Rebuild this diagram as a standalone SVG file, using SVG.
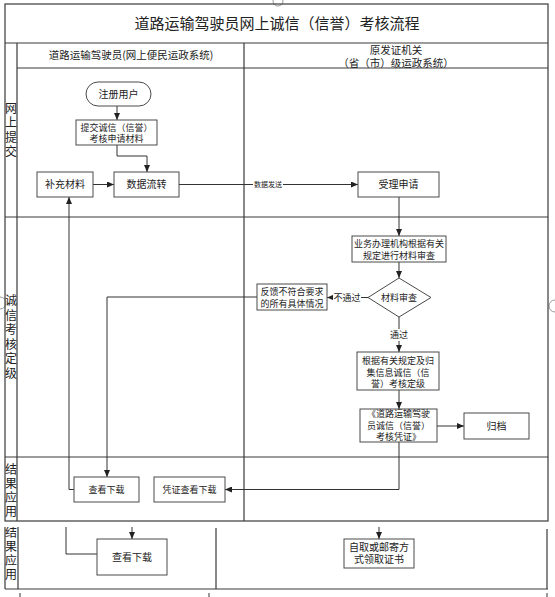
<svg xmlns="http://www.w3.org/2000/svg" width="555" height="597" viewBox="0 0 555 597">
<style>
text{font-family:"Noto Sans CJK SC","Noto Sans",sans-serif;fill:#222;text-anchor:middle}
.t{font-size:10px}
.s{font-size:9px}
.xs{font-size:7px}
.lane{font-size:12px;writing-mode:vertical-rl;letter-spacing:2.5px}
.tbl{fill:none;stroke:#3a3a3a;stroke-width:1.2}
.box{fill:#fff;stroke:#4a4a4a;stroke-width:1}
.c{fill:none;stroke:#333;stroke-width:1}
.h{fill:#fff;stroke:#999;stroke-width:1}
</style>
<defs>
<marker id="a" markerWidth="7" markerHeight="6" refX="7" refY="3" orient="auto" markerUnits="userSpaceOnUse">
<path d="M0,0 L7,3 L0,6 Z" fill="#222"/>
</marker>
<clipPath id="frag"><rect x="0" y="527" width="555" height="70"/></clipPath>
</defs>
<rect width="555" height="597" fill="#fff"/>

<g id="handles">
<circle class="h" cx="278" cy="1" r="5"/>
<circle class="h" cx="0" cy="303" r="6"/>
<circle class="h" cx="555" cy="306" r="6"/>
</g>

<g id="table">
<rect class="tbl" x="5" y="4" width="543" height="517"/>
<line class="tbl" x1="5" y1="43" x2="548" y2="43"/>
<line class="tbl" x1="17" y1="68" x2="548" y2="68"/>
<line class="tbl" x1="17" y1="43" x2="17" y2="521"/>
<line class="tbl" x1="244" y1="43" x2="244" y2="521"/>
<line class="tbl" x1="5" y1="217" x2="548" y2="217"/>
<line class="tbl" x1="5" y1="457" x2="548" y2="457"/>
<text x="277" y="29" style="font-size:15px">道路运输驾驶员网上诚信（信誉）考核流程</text>
<text x="131" y="59" style="font-size:10.5px">道路运输驾驶员(网上便民运政系统)</text>
<text x="396" y="54" style="font-size:10.5px"><tspan x="396">原发证机关</tspan><tspan x="396" dy="13">（省（市）级运政系统）</tspan></text>
<text x="11" y="131" class="lane">网上提交</text>
<text x="11" y="338" class="lane">诚信考核定级</text>
<text x="11" y="491" class="lane" style="letter-spacing:2px">结果应用</text>
</g>

<g id="fragment" clip-path="url(#frag)">
<line class="tbl" x1="5" y1="520" x2="5" y2="589"/>
<line class="tbl" x1="18" y1="520" x2="18" y2="589"/>
<line class="tbl" x1="216" y1="528" x2="216" y2="589"/>
<line class="tbl" x1="547" y1="529" x2="547" y2="589"/>
<line class="tbl" x1="5" y1="589" x2="548" y2="589"/>
<text x="11" y="554" class="lane" style="letter-spacing:2px">结果应用</text>
</g>
<g id="ticks" stroke="#333" stroke-width="1">
<line x1="20" y1="593" x2="20" y2="597"/>
<line x1="209" y1="593" x2="209" y2="597"/>
<line x1="547" y1="593" x2="547" y2="597"/>
</g>

<g id="connectors">
<path class="c" d="M117,106 V120" marker-end="url(#a)"/>
<path class="c" d="M117,145 V156 H147 V172" marker-end="url(#a)"/>
<path class="c" d="M93,184.5 H114" marker-end="url(#a)"/>
<path class="c" d="M179,184.5 H358" marker-end="url(#a)"/>
<rect x="253" y="180" width="30" height="9" fill="#fff"/>
<text x="268" y="187" class="xs">数据发送</text>
<path class="c" d="M399,197 V236" marker-end="url(#a)"/>
<path class="c" d="M399,262 V278" marker-end="url(#a)"/>
<path class="c" d="M368,297.5 H327" marker-end="url(#a)"/>
<rect x="333" y="291" width="28" height="13" fill="#fff"/>
<text x="347" y="301" class="s">不通过</text>
<path class="c" d="M257,297 H107 V477" marker-end="url(#a)"/>
<path class="c" d="M399,317 V352" marker-end="url(#a)"/>
<rect x="389" y="329" width="20" height="12" fill="#fff"/>
<text x="399" y="338" class="s">通过</text>
<path class="c" d="M399,390 V409" marker-end="url(#a)"/>
<path class="c" d="M437,426 H464" marker-end="url(#a)"/>
<path class="c" d="M399,442 V489.5 H225" marker-end="url(#a)"/>
<path class="c" d="M74,489.5 H69 V197" marker-end="url(#a)"/>
<g clip-path="url(#frag)">
<path class="c" d="M66,520 V554 H97"/>
<path class="c" d="M132,527 V539" marker-end="url(#a)"/>
<path class="c" d="M379,527 V539" marker-end="url(#a)"/>
</g>
</g>

<g id="n_register"><rect class="box" x="86" y="82" width="65" height="24" rx="12"/><text x="118.5" y="97.5" class="t">注册用户</text></g>
<g id="n_submit"><rect class="box" x="76" y="120" width="81" height="25"/><text x="116.5" y="130.5" class="s"><tspan x="116.5">提交诚信（信誉）</tspan><tspan x="116.5" dy="11">考核申请材料</tspan></text></g>
<g id="n_supplement"><rect class="box" x="37" y="172" width="56" height="25"/><text x="65" y="188" class="t">补充材料</text></g>
<g id="n_flow"><rect class="box" x="114" y="172" width="65" height="25"/><text x="146.5" y="188" class="t">数据流转</text></g>
<g id="n_accept"><rect class="box" x="358" y="172" width="81" height="25"/><text x="398.5" y="188" class="t">受理申请</text></g>
<g id="n_review"><rect class="box" x="352" y="236" width="94" height="26"/><text x="399" y="246.5" class="s"><tspan x="399">业务办理机构根据有关</tspan><tspan x="399" dy="12">规定进行材料审查</tspan></text></g>
<g id="n_check"><polygon class="box" points="399,278 431,297.5 399,317 368,297.5"/><text x="399" y="301" class="s">材料审查</text></g>
<g id="n_feedback"><rect class="box" x="257" y="284" width="70" height="26"/><text x="292" y="294.5" class="s"><tspan x="292">反馈不符合要求</tspan><tspan x="292" dy="12">的所有具体情况</tspan></text></g>
<g id="n_grade"><rect class="box" x="357" y="352" width="82" height="38"/><text x="398" y="363.5" class="s"><tspan x="398">根据有关规定及归</tspan><tspan x="398" dy="12">集信息诚信（信</tspan><tspan x="398" dy="11">誉）考核定级</tspan></text></g>
<g id="n_cert"><rect class="box" x="360" y="409" width="77" height="33"/><text x="398.5" y="416.5" class="s"><tspan x="398.5">《道路运输驾驶</tspan><tspan x="398.5" dy="12">员诚信（信誉）</tspan><tspan x="398.5" dy="11.5">考核凭证》</tspan></text></g>
<g id="n_archive"><rect class="box" x="464" y="413" width="65" height="26"/><text x="496.5" y="429.5" class="t">归档</text></g>
<g id="n_view1"><rect class="box" x="74" y="477" width="65" height="25"/><text x="106.5" y="493" class="s">查看下载</text></g>
<g id="n_certview"><rect class="box" x="154" y="477" width="71" height="25"/><text x="189.5" y="493" class="s">凭证查看下载</text></g>
<g id="n_view2"><rect class="box" x="97" y="539" width="70" height="36"/><text x="132" y="560.5" class="t">查看下载</text></g>
<g id="n_pickup"><rect class="box" x="344" y="539" width="70" height="29"/><text x="379" y="550.5" class="t"><tspan x="379">自取或邮寄方</tspan><tspan x="379" dy="12">式领取证书</tspan></text></g>
</svg>
